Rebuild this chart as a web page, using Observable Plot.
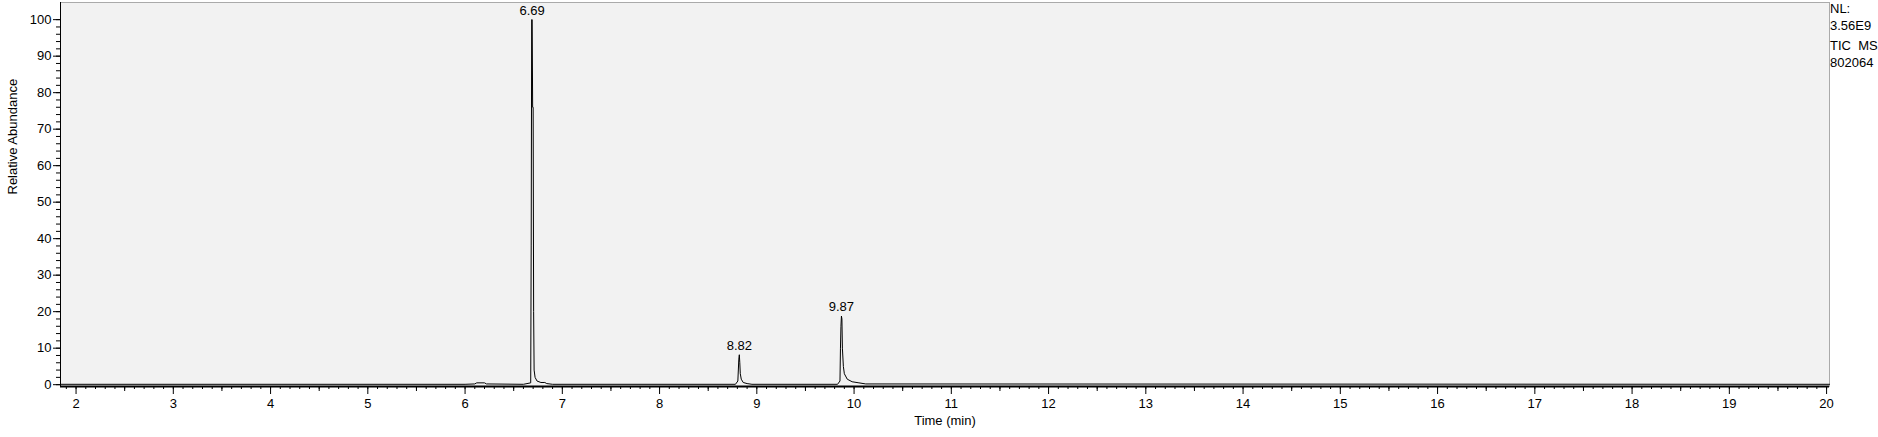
<!DOCTYPE html>
<html>
<head>
<meta charset="utf-8">
<script src="https://cdn.jsdelivr.net/npm/d3@7"></script>
<script src="https://cdn.jsdelivr.net/npm/@observablehq/plot@0.6"></script>
<style>
  body { margin: 0; background: #fff; font-family: "Liberation Sans", Arial, sans-serif; }
  #chart { position: relative; width: 1878px; height: 437px; }
  #nl { position: absolute; left: 1830px; top: 0px; font-size: 13px; line-height: 17px; }
</style>
</head>
<body>
<div id="chart"><div id="nl">NL:<br>3.56E9<br><div style="margin-top:3px">TIC&nbsp; MS<br>802064</div></div></div>
<script>
// chromatogram trace
const time = [1.84, 6.00, 6.10, 6.12, 6.20, 6.22, 6.60, 6.675, 6.68, 6.685, 6.69, 6.695, 6.70, 6.705, 6.71, 6.72, 6.74, 6.78, 6.82, 6.84, 6.90,
  8.78, 8.805, 8.815, 8.82, 8.825, 8.83, 8.84, 8.86, 8.90, 8.95,
  9.83, 9.855, 9.86, 9.865, 9.87, 9.875, 9.88, 9.89, 9.90, 9.93, 9.98, 10.05, 10.12, 20.03];
const abundance = [0.1, 0.1, 0.2, 0.5, 0.5, 0.2, 0.1, 0.5, 38, 100, 100, 76, 76, 20, 4, 2, 1, 0.6, 0.6, 0.3, 0.1,
  0.1, 1, 7, 8.2, 6, 3, 1.5, 0.6, 0.3, 0.1,
  0.1, 1, 10, 16, 18.8, 18, 10, 5, 3, 1.5, 0.8, 0.5, 0.2, 0.1];
const peakTime = [6.69, 8.82, 9.87];
const peakHeight = [100, 8.2, 18.8];
const peakLabel = ["6.69", "8.82", "9.87"];

const trace = time.map((t, i) => ({t, a: abundance[i]}));
const peaks = peakTime.map((t, i) => ({t, a: peakHeight[i], label: peakLabel[i]}));

const xMinor = d3.range(19, 201).map(d => d / 10);
const yMinor = d3.range(0, 101, 2);

const chart = Plot.plot({
  width: 1878,
  height: 437,
  marginLeft: 60,
  marginRight: 49,
  marginTop: 2,
  marginBottom: 51,
  style: {fontFamily: "Liberation Sans, Arial, sans-serif", fontSize: "13px", color: "#000", background: "#fff"},
  x: {domain: [1.84, 20.03], label: null},
  y: {domain: [-0.5, 104.7], label: null},
  marks: [
    Plot.frame({fill: "#f2f2f2", stroke: "#aaa"}),
    Plot.line(trace, {x: "t", y: "a", stroke: "#000", strokeWidth: 1}),
    Plot.text(peaks, {x: "t", y: "a", text: "label", dy: -9, fontSize: 13}),
    Plot.ruleY([-0.5], {stroke: "#000", strokeWidth: 2}),
    Plot.ruleX([1.84], {stroke: "#000", strokeWidth: 1}),
    Plot.axisX({ticks: xMinor, tickSize: 3, tickFormat: () => ""}),
    Plot.axisX({ticks: d3.range(2.5, 20, 1), tickSize: 5, tickFormat: () => ""}),
    Plot.axisX({ticks: d3.range(2, 21), tickSize: 8, tickFormat: d => d, fontSize: 13, tickPadding: 4}),
    Plot.axisY({ticks: yMinor, tickSize: 4, tickFormat: () => ""}),
    Plot.axisY({ticks: d3.range(0, 101, 10), tickSize: 7, tickFormat: d => d, fontSize: 13, tickPadding: 2}),
    Plot.text(["Time (min)"], {frameAnchor: "bottom", dy: 38, fontSize: 13}),
    Plot.text(["Relative Abundance"], {frameAnchor: "left", dx: -48, rotate: -90, fontSize: 13})
  ]
});
document.getElementById("chart").prepend(chart);
</script>
</body>
</html>
